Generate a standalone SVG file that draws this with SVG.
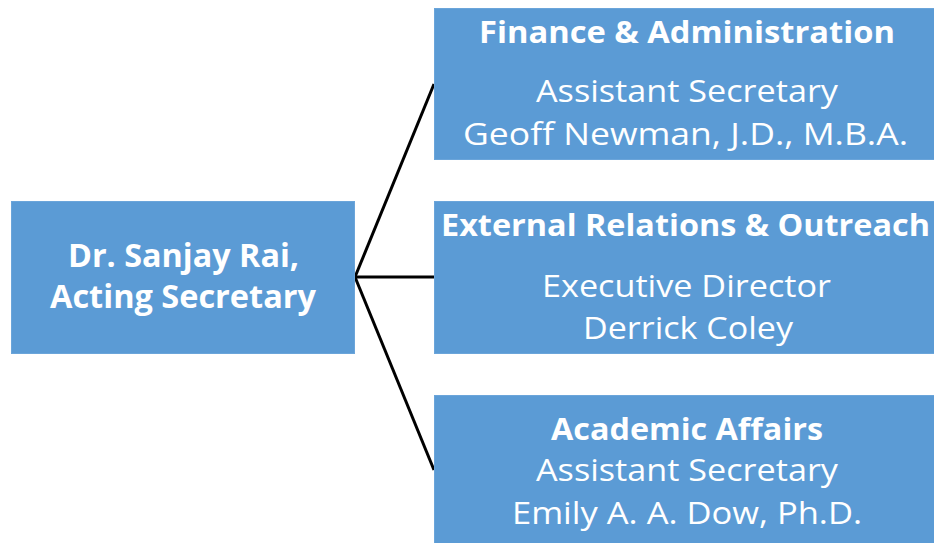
<svg xmlns="http://www.w3.org/2000/svg" width="934" height="543" viewBox="0 0 934 543">
<style>
.box{fill:#5B9BD5;stroke:#6BA5DA;stroke-width:1}
.t{font-family:"Open Sans","Liberation Sans",sans-serif;fill:#FFFFFF;text-anchor:middle}
.b{font-weight:bold;font-size:31px}
.r{font-size:31px}
.lb{font-weight:bold;font-size:32px}
.c{stroke:#000000;stroke-width:3;fill:none}
</style>
<rect width="934" height="543" fill="#FFFFFF"/>
<g id="connectors">
<line class="c" x1="355" y1="277" x2="434" y2="84"/>
<line class="c" x1="355" y1="277" x2="434" y2="277"/>
<line class="c" x1="355" y1="277" x2="434" y2="470"/>
</g>
<g id="node-secretary">
<rect class="box" x="11.5" y="201.5" width="343" height="152"/>
<text class="t lb" x="183.5" y="267" textLength="231" lengthAdjust="spacingAndGlyphs">Dr. Sanjay Rai,</text>
<text class="t lb" x="183" y="308" textLength="266" lengthAdjust="spacingAndGlyphs">Acting Secretary</text>
</g>
<g id="node-finance">
<rect class="box" x="434.5" y="8.5" width="500" height="151"/>
<text class="t b" x="687" y="43" textLength="416" lengthAdjust="spacingAndGlyphs">Finance &amp; Administration</text>
<text class="t r" x="687" y="102" textLength="302" lengthAdjust="spacingAndGlyphs">Assistant Secretary</text>
<text class="t r" x="685.5" y="145" textLength="445" lengthAdjust="spacingAndGlyphs">Geoff Newman, J.D., M.B.A.</text>
</g>
<g id="node-external">
<rect class="box" x="434.5" y="201.5" width="500" height="152"/>
<text class="t b" x="685.5" y="236" textLength="489" lengthAdjust="spacingAndGlyphs">External Relations &amp; Outreach</text>
<text class="t r" x="686.5" y="297" textLength="289" lengthAdjust="spacingAndGlyphs">Executive Director</text>
<text class="t r" x="688" y="339" textLength="210" lengthAdjust="spacingAndGlyphs">Derrick Coley</text>
</g>
<g id="node-academic">
<rect class="box" x="434.5" y="395.5" width="500" height="148"/>
<text class="t b" x="687" y="440" textLength="272" lengthAdjust="spacingAndGlyphs">Academic Affairs</text>
<text class="t r" x="687" y="481" textLength="302" lengthAdjust="spacingAndGlyphs">Assistant Secretary</text>
<text class="t r" x="687" y="524" textLength="350" lengthAdjust="spacingAndGlyphs">Emily A. A. Dow, Ph.D.</text>
</g>
</svg>
